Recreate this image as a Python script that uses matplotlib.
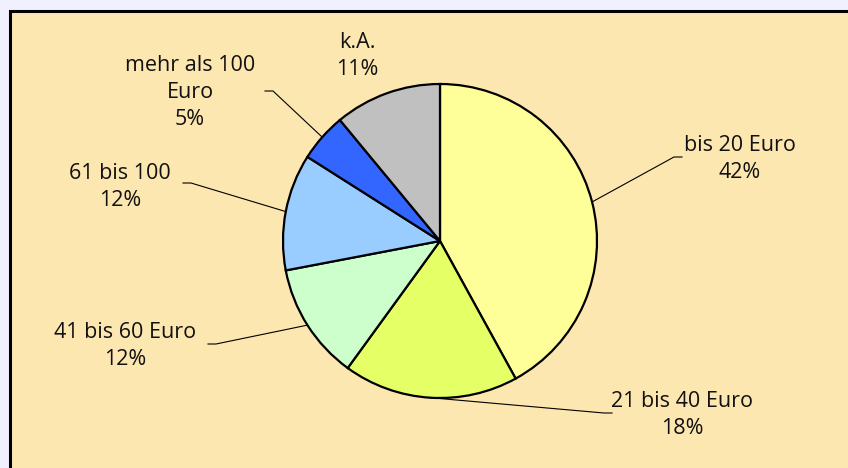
import numpy as np
import matplotlib.pyplot as plt
from matplotlib.patches import Rectangle

labels = ['bis 20 Euro', '21 bis 40 Euro', '41 bis 60 Euro', '61 bis 100',
          'mehr als 100\nEuro', 'k.A.']
shares = [42, 18, 12, 12, 5, 11]
colors = ['#ffff99', '#e5ff66', '#ccffcc', '#99ccff', '#3366ff', '#c0c0c0']

# label centres in pixels (x from left, y of first line's centre from top)
label_px = [(740, 144), (682, 400), (125, 331), (120, 172), (190, 64), (357, 41)]
# where the leader line meets the label, pixels
leader_px = [(682, 157), (612, 413), (208, 344), (183, 183), (265, 91), None]

W, H = 848, 468
R = 157.0
cx, cy = 440, 241

plt.rcParams['font.family'] = ['Open Sans', 'DejaVu Sans']

fig = plt.figure(figsize=(W / 100, H / 100), dpi=100)
fig.patch.set_facecolor('#f0f0ff')
fig.patches.append(Rectangle((9.5 / W, -0.05), 1.1, (H - 10.5) / H + 0.05,
                             transform=fig.transFigure, facecolor='#fde7b1',
                             edgecolor='black', linewidth=2.2, zorder=-5))

ax = fig.add_axes([0, 0, 1, 1])
ax.set_facecolor('none')

wedges, _ = ax.pie(shares, colors=colors, startangle=90, counterclock=False,
                   radius=1.0, wedgeprops=dict(edgecolor='black', linewidth=1.6))

ax.set_xlim(-cx / R, (W - cx) / R)
ax.set_ylim(-(H - cy) / R, cy / R)
ax.set_aspect('equal')
ax.axis('off')


def px(x, y):
    return (x - cx) / R, (cy - y) / R


for w, lab, share, lp, ld in zip(wedges, labels, shares, label_px, leader_px):
    tx, ty = px(lp[0], lp[1] - 9)
    ax.text(tx, ty, f'{lab}\n{share}%', ha='center', va='top', fontsize=15.5,
            linespacing=1.36, color='#111111')
    if ld is not None:
        ang = np.deg2rad((w.theta1 + w.theta2) / 2)
        ex, ey = np.cos(ang), np.sin(ang)
        lx, ly = px(*ld)
        # short horizontal stub next to the label
        stub = 8 / R if lx < ex else -8 / R
        ax.plot([lx, lx + stub, ex], [ly, ly, ey], color='black', linewidth=0.8)

fig.savefig('out.png', dpi=100, facecolor=fig.get_facecolor())
